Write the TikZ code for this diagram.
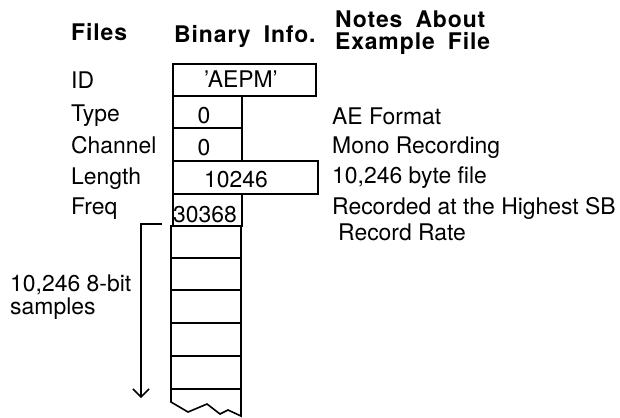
\documentclass[tikz,border=0pt]{standalone}
\usepackage{fontspec}
\setmainfont{TeX Gyre Heros}
\newfontfamily\hdrfont[LetterSpace=4,WordSpace=1.8]{TeX Gyre Heros}
\newcommand\tightlines{\lineskiplimit=-30pt\relax}
\usetikzlibrary{arrows.meta}
\begin{document}
\begin{tikzpicture}[x=1bp,y=-1bp,
  txt/.style={anchor=base west, inner sep=0pt, font=\fontsize{23}{27}\selectfont},
  two/.style={anchor=north west, inner sep=0pt, align=left, font=\fontsize{23}{22.5}\selectfont\tightlines},
  hdr/.style={anchor=base west, inner sep=0pt, font=\hdrfont\bfseries\fontsize{23}{27}\selectfont},
  val/.style={anchor=base, inner sep=0pt, font=\fontsize{23}{27}\selectfont},
  cell/.style={draw, line width=1.6bp, inner sep=0pt, anchor=north west},
  ln/.style={line width=1.6bp},
  arr/.style={line width=1.5bp, -{Straight Barb[length=8bp,width=16bp,line width=1.5bp]}}
]
\useasboundingbox (0,0) rectangle (620,417);

% headers
\node[hdr] (hfiles) at (71,40) {Files};
\node[hdr] (hbin) at (174,42) {Binary Info.};
\node[hdr] (hnotes1) at (335,27) {Notes About};
\node[hdr] (hnotes2) at (335,49) {Example File};

% field names
\node[txt] (nid) at (71,88) {ID};
\node[txt] (ntype) at (71,121) {Type};
\node[txt] (nchan) at (71,153) {Channel};
\node[txt] (nlen) at (71,184) {Length};
\node[txt] (nfreq) at (71,214) {Freq};

% cells
\node[cell, minimum width=143bp, minimum height=32bp] (cid) at (172,63) {};
\node[cell, minimum width=69bp, minimum height=32bp] (ctype) at (172,95) {};
\node[cell, minimum width=69bp, minimum height=33bp] (cchan) at (172,127) {};
\node[cell, minimum width=145bp, minimum height=33bp] (clen) at (172,160) {};
\node[cell, minimum width=69bp, minimum height=32bp] (cfreq) at (172,193) {};

% values
\node[val] (vid) at (241,87) {'AEPM'};
\node[val] (vtype) at (204,123) {0};
\node[val] (vchan) at (204,155) {0};
\node[val] (vlen) at (236,187) {10246};
\node[val] (vfreq) at (205,222) {30368};

% sample column
\draw[ln] (171,225) -- (171,402) -- (188,412) -- (207,404) -- (220,414) -- (228,410) -- (241,416) -- (241,225);
\foreach \yy in {258,290,323,356,389} \draw[ln] (171,\yy) -- (241,\yy);

% notes
\node[txt] (a1) at (332,124) {AE Format};
\node[txt] (a2) at (332,153) {Mono Recording};
\node[txt] (a3) at (332,183) {10,246 byte file};
\node[txt] (a4) at (332,214) {Recorded at the Highest SB};
\node[txt] (a5) at (338,240) {Record Rate};

% samples bracket
\coordinate (bs) at (162,224);
\coordinate (bc) at (141,224);
\coordinate (be) at (141,398);
\draw[arr] (bs) -- (bc) -- (be);
\node[two] (s) at (10,275) {10,246 8-bit\\samples};
\end{tikzpicture}
\end{document}
